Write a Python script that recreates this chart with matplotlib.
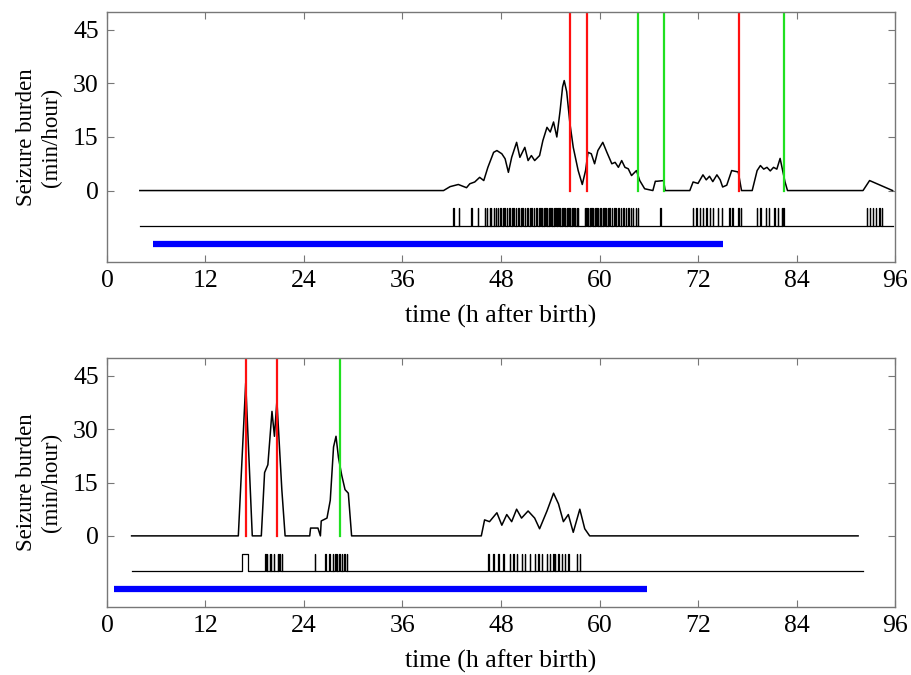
import numpy as np
import matplotlib.pyplot as plt

plt.rcParams['font.family'] = 'Liberation Serif'

# ---- top panel data ----
top_t = [4.0, 41.0, 41.8, 42.8, 43.8, 44.2, 44.8, 45.4, 45.9, 46.4, 47.1, 47.5, 48.1,
         48.5, 48.9, 49.3, 49.9, 50.3, 50.9, 51.3, 51.7, 52.1, 52.7, 53.1, 53.6,
         54.0, 54.4, 54.8, 55.2, 55.5, 55.7, 56.0, 56.4, 56.8, 57.4, 57.9, 58.3,
         58.6, 59.0, 59.4, 59.8, 60.4, 60.9, 61.5, 61.9, 62.3, 62.7, 63.1, 63.5,
         63.9, 64.5, 64.9, 65.5, 66.5, 66.8, 67.0, 67.8, 68.0, 71.0, 71.4, 72.0,
         72.6, 73.0, 73.4, 73.8, 74.3, 74.7, 75.0, 75.5, 76.1, 76.9, 77.3, 78.6,
         79.2, 79.6, 80.0, 80.4, 80.8, 81.2, 81.6, 82.0, 82.6, 82.9, 92.1, 92.9,
         93.7, 95.0, 95.7]
top_burden = [0, 0, 1.1, 1.7, 0.8, 1.9, 2.4, 3.7, 2.8, 6.5, 10.7, 11.2, 10.3,
              8.9, 5.1, 9.3, 13.5, 9.3, 12.1, 8.4, 9.8, 8.4, 9.8, 14.0, 17.7,
              16.4, 19.2, 15.0, 22.4, 29.0, 30.8, 27.7, 18.7, 12.1, 5.6, 1.7, 5.6,
              10.7, 10.3, 7.5, 11.2, 13.5, 10.7, 7.5, 7.9, 6.5, 8.4, 6.5, 6.1,
              4.2, 5.6, 2.8, 0.5, 0, 2.6, 2.6, 2.8, 0, 0, 2.4, 2.0,
              4.4, 3.0, 4.0, 2.5, 4.4, 3.0, 1.0, 1.5, 5.6, 5.2, 0, 0,
              5.6, 7.0, 6.0, 6.5, 5.5, 6.5, 6.0, 9.0, 2.4, 0, 0, 2.8,
              2.0, 0.7, 0]
top_events = [42.2, 42.9, 44.4, 45.2,
              46.0, 46.3, 46.6, 46.8, 47.1, 47.4, 47.6, 47.9, 48.2, 48.4, 48.7,
              49.0, 49.3, 49.5, 49.8, 50.1, 50.4, 50.6, 50.9, 51.2, 51.5, 51.7,
              52.0, 52.3, 52.6, 52.8, 53.0, 53.2, 53.4, 53.6, 53.8, 54.0, 54.2,
              54.4, 54.6, 54.8, 55.0, 55.2, 55.4, 55.6, 55.8, 56.0, 56.2, 56.4,
              56.6, 56.8, 57.0, 57.2, 57.4,
              58.2, 58.4, 58.6, 58.8, 59.0, 59.2, 59.4, 59.6, 59.8, 60.0, 60.2,
              60.4, 60.6, 60.8, 61.0, 61.2, 61.5, 61.8, 62.0, 62.3, 62.6, 62.9,
              63.2, 63.5, 63.8, 64.1, 64.4, 64.7,
              67.4,
              71.4, 71.8, 72.2, 72.6, 73.0, 73.4, 73.8, 74.4, 74.9,
              75.8, 76.2, 76.9, 77.2,
              79.2, 79.6, 80.3, 80.6, 81.3, 81.7, 82.2, 82.4,
              92.6, 92.9, 93.3, 93.7, 94.1, 94.4]
top_span = (4.0, 95.7)
top_red = [56.4, 58.5, 77.0]
top_green = [64.7, 67.8, 82.5]
top_blue = (5.6, 75.0)

# ---- bottom panel data ----
bot_t = [3.0, 16.0, 16.9, 17.7, 18.8, 19.2, 19.6, 20.1, 20.4, 20.7, 21.3, 21.7,
         24.7, 24.8, 25.7, 26.0, 26.1, 26.8, 27.2, 27.6, 27.9, 28.2, 28.6, 29.0,
         29.4, 29.8, 45.6, 46.0, 46.6, 47.5, 48.1, 48.7, 49.3, 49.9, 50.5, 51.3,
         52.1, 52.7, 53.6, 54.4, 55.0, 55.6, 56.2, 56.8, 57.6, 58.2, 58.8, 91.5]
bot_burden = [0, 0, 43.0, 0, 0, 17.8, 20.0, 35.0, 28.0, 38.0, 13.0, 0,
              0, 2.2, 2.2, 0, 4.2, 5.0, 10.0, 25.0, 28.0, 22.0, 17.0, 13.0,
              12.0, 0, 0, 4.5, 4.0, 6.5, 3.0, 6.0, 4.0, 7.5, 5.0, 7.0,
              5.0, 2.0, 7.0, 12.0, 9.0, 4.0, 6.0, 1.0, 7.5, 2.0, 0, 0]
bot_events = [19.3, 19.5, 19.8, 20.0, 20.3, 20.8, 21.0, 21.3,
              25.3, 26.6, 27.1, 27.5, 27.8, 28.0, 28.3, 28.6, 28.9, 29.2,
              46.44, 47.06, 47.67, 48.27, 49.09, 49.49, 49.9, 50.5, 50.91,
              51.52, 52.13, 52.54, 52.94, 53.55, 53.96, 54.36, 54.57, 54.97,
              55.38, 55.79, 56.19, 57.2, 57.61]
bot_long = [(16.45, 17.15)]
bot_span = (3.0, 92.1)
bot_red = [16.9, 20.7]
bot_green = [28.4]
bot_blue = (0.8, 65.8)

RED = '#ff1010'
GREEN = '#20e020'
BLUE = '#0000ff'
SPINE = '#777777'


def raster_path(events, long_events, span, base=-10, top=-5, width=0.04):
    pulses = [(e, e + width) for e in events] + list(long_events)
    pulses.sort()
    xs, ys = [span[0]], [base]
    for on, off in pulses:
        xs += [on, on, off, off]
        ys += [base, top, top, base]
    xs.append(span[1])
    ys.append(base)
    return xs, ys


def draw_panel(ax, t, burden, events, long_events, span, reds, greens, blue):
    ax.plot(t, burden, color='black', lw=1.1)
    rx, ry = raster_path(events, long_events, span)
    ax.plot(rx, ry, color='black', lw=0.9)
    ax.plot(blue, [-15, -15], color=BLUE, lw=4.5, solid_capstyle='butt')
    for x in reds:
        ax.plot([x, x], [0, 50], color=RED, lw=1.6)
    for x in greens:
        ax.plot([x, x], [0, 50], color=GREEN, lw=1.6)

    ax.set_xlim(0, 96)
    ax.set_ylim(-20, 50)
    ax.set_xticks(np.arange(0, 97, 12))
    ax.set_yticks([0, 15, 30, 45])
    ax.tick_params(direction='in', top=True, right=True, length=5,
                   labelsize=18.5, color=SPINE, pad=6)
    for s in ax.spines.values():
        s.set_color(SPINE)
        s.set_linewidth(1.0)
    ax.set_xlabel('time (h after birth)', fontsize=18.5, labelpad=9)
    ax.set_ylabel('Seizure burden\n(min/hour)', fontsize=16.5, labelpad=8)


fig = plt.figure(figsize=(9.12, 6.75), dpi=100)
ax1 = fig.add_axes([0.1173, 0.6119, 0.8641, 0.3703])
ax2 = fig.add_axes([0.1173, 0.1007, 0.8641, 0.3689])

draw_panel(ax1, top_t, top_burden, top_events, [], top_span,
           top_red, top_green, top_blue)
draw_panel(ax2, bot_t, bot_burden, bot_events, bot_long, bot_span,
           bot_red, bot_green, bot_blue)

fig.savefig('out.png', dpi=100)
